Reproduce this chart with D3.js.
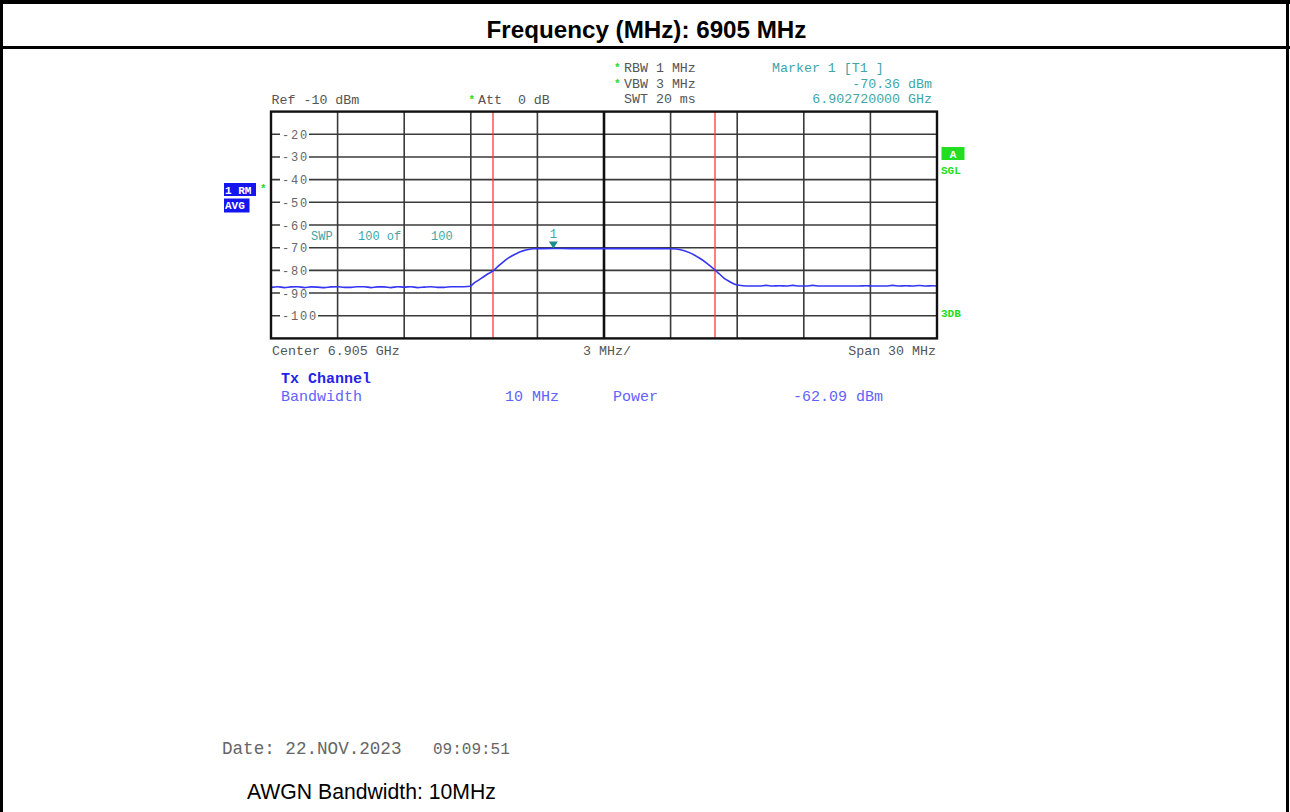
<!DOCTYPE html>
<html>
<head>
<meta charset="utf-8">
<script src="https://cdn.jsdelivr.net/npm/d3@7"></script>
<style>
  body { margin: 0; background: #fff; }
  svg { display: block; }
  text { white-space: pre; }
</style>
</head>
<body>
<svg id="chart" width="1290" height="812"></svg>
<script>
// ---------------- DATA ----------------
const titleText = "Frequency (MHz): 6905 MHz";
const footerText = "AWGN Bandwidth: 10MHz";
const dateText = "Date: 22.NOV.2023";
const timeText = "09:09:51";

// Sweep span (MHz)
const spanStartMHz = 6890;
const spanEndMHz = 6920;
const refLevelDbm = -10;
const bottomLevelDbm = -110;

// vertical grid (every 3 MHz)
const xGridMHz = [6893, 6896, 6899, 6902, 6905, 6908, 6911, 6914, 6917];
// horizontal grid / level tick labels
const yTickValues = [-20, -30, -40, -50, -60, -70, -80, -90, -100];
const yTickLabels = ["-20", "-30", "-40", "-50", "-60", "-70", "-80", "-90", "-100"];

// channel limit lines (MHz)
const channelLimitsMHz = [6900, 6910];

// marker
const markerFreqMHz = 6902.72;
const markerLevelDbm = -70.36;

// Trace (frequency MHz, level dBm)
const traceFreqMHz = [
  6890.0, 6890.3, 6890.6, 6890.9, 6891.2, 6891.5, 6891.8, 6892.1, 6892.4, 6892.7,
  6893.0, 6893.3, 6893.6, 6893.9, 6894.2, 6894.5, 6894.8, 6895.1, 6895.4, 6895.7,
  6896.0, 6896.3, 6896.6, 6896.9, 6897.2, 6897.5, 6897.8, 6898.1, 6898.4, 6898.7,
  6898.98, 6899.13, 6899.35, 6899.58, 6899.8, 6900.03, 6900.25, 6900.48, 6900.7, 6900.93,
  6901.15, 6901.38, 6901.6, 6901.83, 6902.2, 6902.72, 6903.5, 6904.5, 6905.5, 6906.5,
  6907.5, 6908.0, 6908.45, 6908.9, 6909.35, 6909.65, 6909.95, 6910.2, 6910.4, 6910.65,
  6910.86, 6911.1, 6911.4,
  6911.7, 6912.0, 6912.3, 6912.6, 6912.9, 6913.2, 6913.5, 6913.8, 6914.1, 6914.4,
  6914.7, 6915.0, 6915.3, 6915.6, 6915.9, 6916.2, 6916.5, 6916.8, 6917.1, 6917.4,
  6917.7, 6918.0, 6918.3, 6918.6, 6918.9, 6919.2, 6919.5, 6919.8, 6920.0
];
const traceLevelDbm = [
  -87.5, -87.2, -87.6, -87.3, -87.2, -87.6, -87.3, -87.4, -87.6, -87.3,
  -87.2, -87.5, -87.5, -87.2, -87.2, -87.6, -87.3, -87.3, -87.6, -87.2,
  -87.4, -87.2, -87.6, -87.4, -87.2, -87.5, -87.5, -87.2, -87.2, -87.2,
  -87.0, -85.7, -84.3, -82.8, -81.4, -80.0, -78.0, -76.1, -74.5, -73.2,
  -72.1, -71.3, -70.8, -70.5, -70.4, -70.36, -70.4, -70.4, -70.4, -70.4,
  -70.4, -70.5, -70.9, -72.4, -74.9, -77.0, -79.4, -81.6, -83.4, -84.9,
  -86.0, -86.6, -86.9,
  -86.9, -86.9, -86.6, -86.9, -86.8, -86.9, -86.6, -86.9, -86.9, -86.6,
  -86.9, -86.9, -86.9, -86.9, -86.9, -86.9, -86.9, -86.8, -86.9, -86.9,
  -86.9, -86.6, -86.9, -86.8, -86.9, -86.7, -86.9, -86.8, -86.9
];

// ---------------- LAYOUT ----------------
const svg = d3.select("#chart");
const W = 1290, H = 812;
const plot = { left: 271, right: 937, top: 111.6, bottom: 338.4 };
const mono = "'Liberation Mono', 'Courier New', monospace";
const sans = "'Liberation Sans', Arial, sans-serif";
const grey = "#555";
const teal = "#3fa6a6";
const green = "#22dd22";

const x = d3.scaleLinear().domain([spanStartMHz, spanEndMHz]).range([plot.left, plot.right]);
const y = d3.scaleLinear().domain([bottomLevelDbm, refLevelDbm]).range([plot.bottom, plot.top]);

// outer table frame
svg.append("line").attr("x1", 0).attr("x2", W).attr("y1", 2).attr("y2", 2).attr("stroke", "#000").attr("stroke-width", 4);
svg.append("line").attr("x1", 1.5).attr("x2", 1.5).attr("y1", 0).attr("y2", H).attr("stroke", "#000").attr("stroke-width", 3);
svg.append("line").attr("x1", 1287.5).attr("x2", 1287.5).attr("y1", 0).attr("y2", H).attr("stroke", "#000").attr("stroke-width", 3);
svg.append("line").attr("x1", 0).attr("x2", W).attr("y1", 47.5).attr("y2", 47.5).attr("stroke", "#000").attr("stroke-width", 3);

svg.append("text").attr("x", 646.5).attr("y", 38).attr("text-anchor", "middle")
  .attr("font-family", sans).attr("font-weight", "bold").attr("font-size", 24.2)
  .attr("fill", "#000").text(titleText);

// ---------- header texts ----------
function t(xp, yp, s, opts = {}) {
  return svg.append("text").attr("x", xp).attr("y", yp)
    .attr("font-family", opts.family || mono)
    .attr("font-size", opts.size || 13.3)
    .attr("font-weight", opts.weight || "normal")
    .attr("fill", opts.fill || grey)
    .attr("text-anchor", opts.anchor || "start")
    .text(s);
}
t(624, 72, "RBW 1 MHz");
t(624, 87.5, "VBW 3 MHz");
t(624, 103, "SWT 20 ms");
t(614, 71, "*", { fill: green, weight: "bold", size: 11 });
t(614, 86.5, "*", { fill: green, weight: "bold", size: 11 });
t(772, 72, "Marker 1 [T1 ]", { fill: teal });
t(932, 87.5, "-70.36 dBm", { fill: teal, anchor: "end" });
t(932, 103, "6.902720000 GHz", { fill: teal, anchor: "end" });
t(271.5, 104, "Ref -10 dBm");
t(468.5, 103, "*", { fill: green, weight: "bold", size: 11 });
t(478, 104, "Att  0 dB");

// ---------- plot grid ----------
const g = svg.append("g");
g.selectAll("line.h").data(yTickValues).enter().append("line")
  .attr("x1", plot.left).attr("x2", plot.right)
  .attr("y1", d => y(d)).attr("y2", d => y(d))
  .attr("stroke", "#3a3a3a").attr("stroke-width", 1.6);
g.selectAll("line.v").data(xGridMHz).enter().append("line")
  .attr("x1", d => x(d)).attr("x2", d => x(d))
  .attr("y1", plot.top).attr("y2", plot.bottom)
  .attr("stroke", d => d === 6905 ? "#111" : "#3a3a3a")
  .attr("stroke-width", d => d === 6905 ? 2.6 : 1.6);

// level labels with white background
const lab = g.selectAll("g.lab").data(yTickValues).enter().append("g");
lab.append("rect")
  .attr("x", 280).attr("y", d => y(d) - 6)
  .attr("width", (d, i) => yTickLabels[i].length * 9 + 2).attr("height", 12)
  .attr("fill", "#fff");
lab.append("text")
  .attr("x", 282).attr("y", d => y(d) + 4.5)
  .attr("font-family", mono).attr("font-size", 12)
  .attr("letter-spacing", 1.8)
  .attr("fill", "#666")
  .text((d, i) => yTickLabels[i]);

// SWP text
t(311, 239.5, "SWP", { fill: teal, size: 12 });
t(358, 239.5, "100 of", { fill: teal, size: 12 });
t(431, 239.5, "100", { fill: teal, size: 12 });

// channel limit lines
g.selectAll("line.lim").data(channelLimitsMHz).enter().append("line")
  .attr("x1", d => x(d)).attr("x2", d => x(d))
  .attr("y1", plot.top).attr("y2", plot.bottom)
  .attr("stroke", "#ff3b3b").attr("stroke-width", 1.3);

// trace
const tracePts = traceFreqMHz.map((f, i) => [f, traceLevelDbm[i]]);
g.append("path").datum(tracePts)
  .attr("d", d3.line().x(d => x(d[0])).y(d => y(d[1])).curve(d3.curveMonotoneX))
  .attr("fill", "none").attr("stroke", "#3535f5").attr("stroke-width", 1.6);

// marker
const mx = x(markerFreqMHz), my = y(markerLevelDbm);
g.append("path")
  .attr("d", `M${mx - 4.5},${my - 7} L${mx + 4.5},${my - 7} L${mx},${my} Z`)
  .attr("fill", "#1d8c8c");
t(mx, my - 10, "1", { fill: teal, size: 12, anchor: "middle" });

// plot frame
g.append("rect").attr("x", plot.left).attr("y", plot.top)
  .attr("width", plot.right - plot.left).attr("height", plot.bottom - plot.top)
  .attr("fill", "none").attr("stroke", "#111").attr("stroke-width", 2.4);

// left side annotations
svg.append("rect").attr("x", 224).attr("y", 183).attr("width", 32).attr("height", 13).attr("fill", "#1515f0");
svg.append("rect").attr("x", 224).attr("y", 198.5).attr("width", 25.5).attr("height", 14).attr("fill", "#1515f0");
t(225, 193.5, "1 RM", { fill: "#fff", size: 11, weight: "bold" });
t(225, 209, "AVG", { fill: "#fff", size: 11, weight: "bold" });
t(260, 192, "*", { fill: green, weight: "bold", size: 11 });

// right side annotations
svg.append("rect").attr("x", 941.5).attr("y", 147).attr("width", 23).attr("height", 13).attr("fill", green);
t(953, 157.5, "A", { fill: "#fff", size: 11, weight: "bold", anchor: "middle" });
t(941, 173.5, "SGL", { fill: green, size: 11, weight: "bold" });
t(941, 317, "3DB", { fill: green, size: 11, weight: "bold" });

// bottom axis texts
t(272, 355, "Center 6.905 GHz");
t(583, 355, "3 MHz/");
t(936, 355, "Span 30 MHz", { anchor: "end" });

// channel power results
t(281, 383, "Tx Channel", { fill: "#2424e6", weight: "bold", size: 15 });
t(281, 401, "Bandwidth", { fill: "#6262ff", size: 15 });
t(505, 401, "10 MHz", { fill: "#6262ff", size: 15 });
t(613, 401, "Power", { fill: "#6262ff", size: 15 });
t(793, 401, "-62.09 dBm", { fill: "#6262ff", size: 15 });

// date
t(222, 754, dateText, { size: 17.6, fill: "#666" });
t(433, 754, timeText, { size: 16, fill: "#666" });

// footer
svg.append("text").attr("x", 247).attr("y", 799)
  .attr("font-family", sans).attr("font-size", 21.2).attr("fill", "#000")
  .text(footerText);
</script>
</body>
</html>
